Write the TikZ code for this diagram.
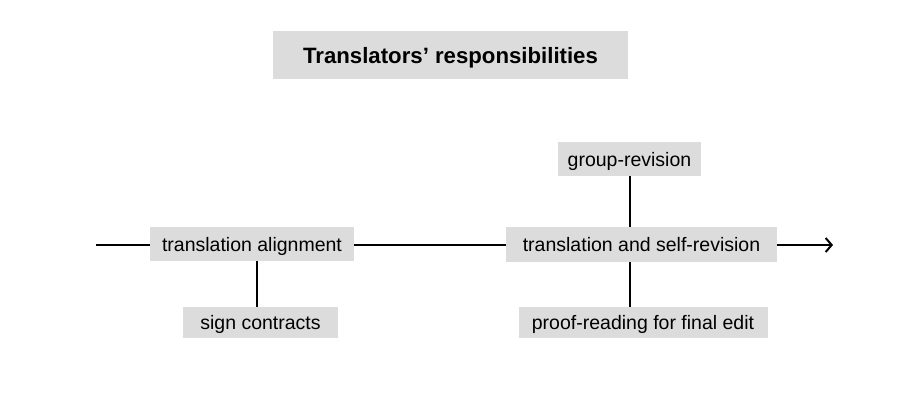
\documentclass[tikz,border=0pt]{standalone}
\usepackage{fontspec}
\setmainfont{Liberation Sans}
\usetikzlibrary{arrows.meta}
\definecolor{boxgray}{HTML}{DCDCDC}
\tikzset{
  box/.style={fill=boxgray, inner sep=0pt, text height=14pt, text depth=0pt, font=\fontsize{19.5}{23}\selectfont},
  link/.style={line width=2pt, black},
}
\begin{document}
\begin{tikzpicture}[x=1pt,y=-1pt]
\useasboundingbox (0,0) rectangle (918,410);
\node[box, minimum width=355pt, minimum height=48pt, text height=16pt, font=\bfseries\fontsize{22.2}{26}\selectfont] (title) at (450.5,55) {Translators’ responsibilities};
\node[box, minimum width=204pt, minimum height=34pt] (ta) at (252,244) {translation alignment};
\node[box, minimum width=155pt, minimum height=31pt] (sc) at (260.5,322.5) {sign contracts};
\node[box, minimum width=271pt, minimum height=35pt] (ts) at (641.5,244.5) {translation and self-revision};
\node[box, minimum width=143pt, minimum height=34pt] (gr) at (629.5,159) {group-revision};
\node[box, minimum width=249pt, minimum height=31pt] (pr) at (643,322.5) {proof-reading for final edit};
\coordinate (start) at (96,245);
\coordinate (end) at (833,245);
\draw[link] (start) -- (ta.west |- start);
\draw[link] (ta.east |- start) -- (ts.west |- start);
\draw[link, -{Straight Barb[length=6pt,width=14pt,line width=2pt]}] (ts.east |- start) -- (end);
\draw[link] (ta.south -| 257,0) -- (sc.north -| 257,0);
\draw[link] (gr.south) -- (gr.south |- ts.north);
\draw[link] (ts.south -| gr.south) -- (pr.north -| gr.south);
\end{tikzpicture}
\end{document}
